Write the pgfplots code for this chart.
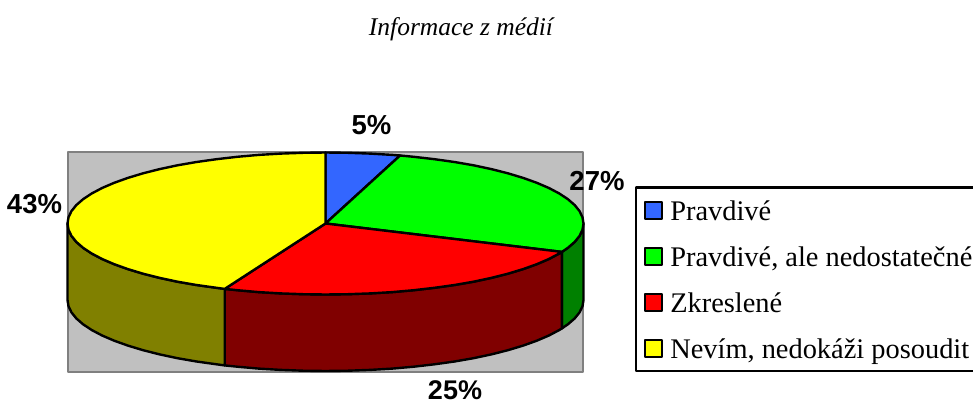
\documentclass[border=0pt]{standalone}
\usepackage{pgfplots}
\usepackage{fontspec}
\setmainfont{Liberation Serif}
\newfontfamily\lab{Liberation Sans}[Scale=1.0]
\pgfplotsset{compat=1.18}
\definecolor{cblue}{HTML}{3366FF}
\definecolor{cgreen}{HTML}{00FF00}
\definecolor{cred}{HTML}{FF0000}
\definecolor{cyell}{HTML}{FFFF00}
\definecolor{dgreen}{HTML}{008000}
\definecolor{dred}{HTML}{800000}
\definecolor{dyell}{HTML}{808000}
\definecolor{wallg}{HTML}{C0C0C0}
\definecolor{wallb}{HTML}{808080}
\begin{document}
\begin{tikzpicture}[line join=round]
\path[use as bounding box] (0,0) rectangle (973pt,403pt);
\clip (0,0) rectangle (973pt,403pt);
\begin{axis}[
  at={(0,0)},anchor=south west,
  width=973pt,height=403pt,scale only axis,
  xmin=0,xmax=973,ymin=0,ymax=403,y dir=reverse,
  hide axis,clip=false,
  legend style={at={(axis cs:634.5,186.5)},anchor=north west,draw=black,line width=2.2pt,
    fill=white,inner xsep=8.5pt,inner ysep=9.5pt,
    nodes={inner sep=0pt,text height=23pt,text depth=3pt,font=\fontsize{28.4}{30}\selectfont,anchor=west},
    /tikz/row sep=20pt,/tikz/column sep=7pt},
  legend cell align=left,
  legend image code/.code={\draw[#1,line width=2.2pt] (0pt,-8.5pt) rectangle (17pt,8.5pt);},
]
% plot wall
\addplot[forget plot,fill=wallg,draw=wallb,line width=2pt] coordinates {(68,152.5)(583,152.5)(583,372)(68,372)} --cycle;
% sides
\addplot[forget plot,fill=dgreen,draw=black,line width=2.4pt] coordinates {
(583.5,223.5)(582.5,229.7)(579.6,235.8)(574.7,241.9)(567.9,247.8)(561.9,251.9)
(561.9,328.4)(567.9,324.3)(574.7,318.4)(579.6,312.3)(582.5,306.2)(583.5,300)} --cycle;
\addplot[forget plot,fill=dred,draw=black,line width=2.4pt] coordinates {
(561.9,251.9)(559.3,253.5)(548.9,259.0)(536.8,264.2)(523.1,269.1)(507.9,273.7)(491.3,277.9)(473.5,281.7)(454.5,285.0)(434.5,287.8)(413.7,290.2)(392.3,292.1)(370.3,293.4)(348.0,294.2)(325.5,294.5)(303.0,294.2)(280.7,293.4)(258.7,292.1)(237.3,290.2)(224.7,288.9)
(224.7,365.4)(237.3,366.7)(258.7,368.6)(280.7,369.9)(303,370.7)(325.5,371)(348,370.7)(370.3,369.9)(392.3,368.6)(413.7,366.7)(434.5,364.3)(454.5,361.5)(473.5,358.2)(491.3,354.4)(507.9,350.2)(523.1,345.6)(536.8,340.7)(548.9,335.5)(559.3,330)(561.9,328.4)} --cycle;
\addplot[forget plot,fill=dyell,draw=black,line width=2.4pt] coordinates {
(224.7,288.9)(216.5,287.8)(196.5,285.0)(177.5,281.7)(159.7,277.9)(143.1,273.7)(127.9,269.1)(114.2,264.2)(102.1,259.0)(91.7,253.5)(83.1,247.8)(76.3,241.9)(71.4,235.8)(68.5,229.7)(67.5,223.5)
(67.5,300)(68.5,306.2)(71.4,312.3)(76.3,318.4)(83.1,324.3)(91.7,330)(102.1,335.5)(114.2,340.7)(127.9,345.6)(143.1,350.2)(159.7,354.4)(177.5,358.2)(196.5,361.5)(216.5,364.3)(224.7,365.4)} --cycle;
% top faces
\addplot[fill=cblue,draw=black,line width=2.4pt] coordinates {
(325.5,223.5)(325.5,152.5)(348.0,152.8)(370.3,153.6)(392.3,154.9)(400.1,155.5)} --cycle;
\addplot[fill=cgreen,draw=black,line width=2.4pt] coordinates {
(325.5,223.5)(400.1,155.5)(413.7,156.8)(434.5,159.2)(454.5,162.0)(473.5,165.3)(491.3,169.1)(507.9,173.3)(523.1,177.9)(536.8,182.8)(548.9,188.0)(559.3,193.5)(567.9,199.2)(574.7,205.1)(579.6,211.2)(582.5,217.3)(583.5,223.5)(582.5,229.7)(579.6,235.8)(574.7,241.9)(567.9,247.8)(561.9,251.9)} --cycle;
\addplot[fill=cred,draw=black,line width=2.4pt] coordinates {
(325.5,223.5)(561.9,251.9)(559.3,253.5)(548.9,259.0)(536.8,264.2)(523.1,269.1)(507.9,273.7)(491.3,277.9)(473.5,281.7)(454.5,285.0)(434.5,287.8)(413.7,290.2)(392.3,292.1)(370.3,293.4)(348.0,294.2)(325.5,294.5)(303.0,294.2)(280.7,293.4)(258.7,292.1)(237.3,290.2)(224.7,288.9)} --cycle;
\addplot[fill=cyell,draw=black,line width=2.4pt] coordinates {
(325.5,223.5)(224.7,288.9)(216.5,287.8)(196.5,285.0)(177.5,281.7)(159.7,277.9)(143.1,273.7)(127.9,269.1)(114.2,264.2)(102.1,259.0)(91.7,253.5)(83.1,247.8)(76.3,241.9)(71.4,235.8)(68.5,229.7)(67.5,223.5)(68.5,217.3)(71.4,211.2)(76.3,205.1)(83.1,199.2)(91.7,193.5)(102.1,188.0)(114.2,182.8)(127.9,177.9)(143.1,173.3)(159.7,169.1)(177.5,165.3)(196.5,162.0)(216.5,159.2)(237.3,156.8)(258.7,154.9)(280.7,153.6)(303.0,152.8)(325.5,152.5)} --cycle;
\legend{Pravdivé,{Pravdivé, ale nedostatečné},Zkreslené,{Nevím, nedokáži posoudit}}
\node[font=\fontsize{25.5}{28}\selectfont\itshape] at (axis cs:461,29.5) {Informace z médií};
\node[font=\lab\fontsize{27.5}{30}\selectfont\bfseries] at (axis cs:371.5,125.5) {5\%};
\node[font=\lab\fontsize{27.5}{30}\selectfont\bfseries] at (axis cs:597,181.5) {27\%};
\node[font=\lab\fontsize{27.5}{30}\selectfont\bfseries] at (axis cs:34.5,204.5) {43\%};
\node[inner sep=0pt,font=\lab\fontsize{27}{30}\selectfont\bfseries] at (axis cs:455,390.5) {25\%};
\end{axis}
\end{tikzpicture}
\end{document}
